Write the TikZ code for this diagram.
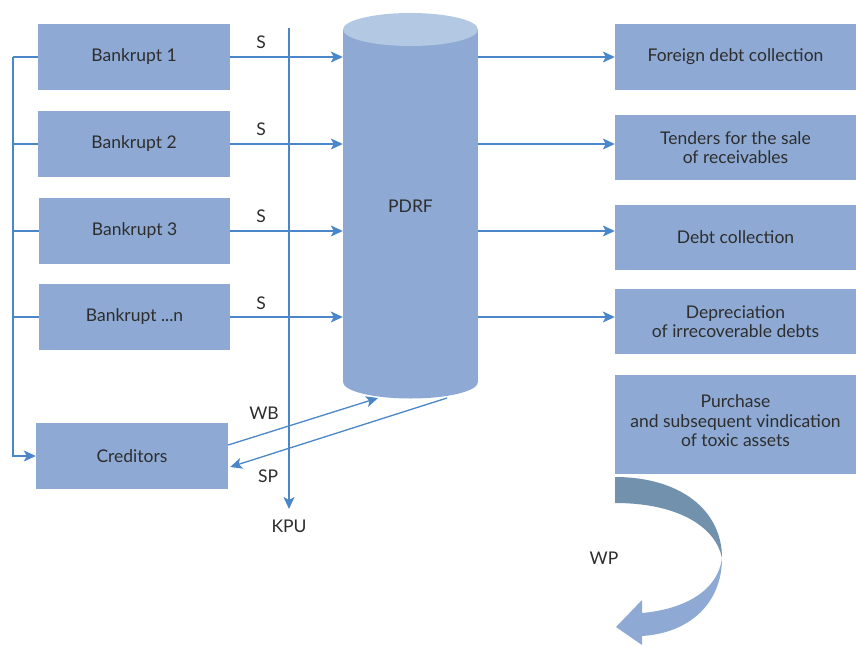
\documentclass[tikz,border=0pt]{standalone}
\usepackage{fontspec}
\setmainfont{Lato}
\usetikzlibrary{arrows.meta}
\definecolor{boxc}{RGB}{142,170,212}
\definecolor{topc}{RGB}{179,201,227}
\definecolor{linec}{RGB}{74,134,200}
\definecolor{txt}{RGB}{45,45,45}
\definecolor{darkband}{RGB}{114,145,173}
\begin{document}
\begin{tikzpicture}[x=1pt,y=-1pt, font=\fontsize{17.5}{19.5}\selectfont,
  box/.style={fill=boxc, draw=none, inner sep=0pt, align=center, text=txt},
  conn/.style={draw=linec, line width=1.3pt, -{Stealth[length=12pt,width=11pt,inset=3pt]}},
  plain/.style={draw=linec, line width=1.3pt},
  lbl/.style={text=txt, inner sep=1pt}]
\useasboundingbox (0,0) rectangle (856,645);

% left boxes
\node[box, minimum width=192pt, minimum height=66pt] (b1) at (134,57) {Bankrupt 1};
\node[box, minimum width=192pt, minimum height=66pt] (b2) at (134,144) {Bankrupt 2};
\node[box, minimum width=191pt, minimum height=66pt] (b3) at (134.5,231) {Bankrupt 3};
\node[box, minimum width=191pt, minimum height=66pt] (bn) at (134.5,317) {Bankrupt ...n};
\node[box, minimum width=192pt, minimum height=66pt] (cred) at (132,456) {Creditors};

% right boxes
\node[box, minimum width=241pt, minimum height=66pt] (f1) at (735.5,57) {Foreign debt collection};
\node[box, minimum width=241pt, minimum height=65pt] (f2) at (735.5,147.5) {Tenders for the sale\\of receivables};
\node[box, minimum width=241pt, minimum height=65pt] (f3) at (735.5,237.5) {Debt collection};
\node[box, minimum width=241pt, minimum height=65pt] (f4) at (735.5,321.5) {Depreciation\\of irrecoverable debts};
\node[box, minimum width=241pt, minimum height=99pt] (f5) at (735.5,424.5) {};
\node[lbl, align=center] (f5t) at (735.5,421) {Purchase\\and subsequent vindication\\of toxic assets};

% cylinder
\fill[boxc] (343,29.5) rectangle (478,382);
\fill[boxc] (410.5,382) ellipse [x radius=67.5, y radius=16.5];
\fill[topc] (410.5,29.5) ellipse [x radius=67.5, y radius=16.5];
\node[inner sep=0pt, minimum width=135pt, minimum height=352.5pt, text=txt] (pdrf) at (410.5,205.75) {PDRF};

% S arrows
\draw[conn] (b1.east) -- (b1.east -| pdrf.west);
\draw[conn] (b2.east) -- (b2.east -| pdrf.west);
\draw[conn] (b3.east) -- (b3.east -| pdrf.west);
\draw[conn] (bn.east) -- (bn.east -| pdrf.west);
\node[lbl] (s1) at (261,42) {S};
\node[lbl] (s2) at (261,129) {S};
\node[lbl] (s3) at (261,216) {S};
\node[lbl] (s4) at (261,303) {S};

% right arrows
\draw[conn] (pdrf.east |- b1.east) -- (b1.east -| f1.west);
\draw[conn] (pdrf.east |- b2.east) -- (b2.east -| f2.west);
\draw[conn] (pdrf.east |- b3.east) -- (b3.east -| f3.west);
\draw[conn] (pdrf.east |- bn.east) -- (bn.east -| f4.west);

% KPU
\coordinate (kt) at (289,28);
\coordinate (kb) at (289,509);
\draw[conn] (kt) -- (kb);
\node[lbl] (kpu) at (289,526) {KPU};

% left bracket
\coordinate (lt) at (13,57);
\draw[plain] (b1.west) -- (lt);
\draw[plain] (b2.west) -- (b2.west -| lt);
\draw[plain] (b3.west) -- (b3.west -| lt);
\draw[plain] (bn.west) -- (bn.west -| lt);
\draw[conn] (lt) |- (cred.west);

% WB / SP
\coordinate (wbe) at (378,398);
\coordinate (sps) at (447,398);
\draw[conn] ([yshift=11pt]cred.east) -- (wbe);
\draw[conn] (sps) -- ([yshift=-11pt,xshift=2pt]cred.east);
\node[lbl] (wb) at (264,413) {WB};
\node[lbl] (sp) at (268,476) {SP};

% WP curved arrow
\fill[darkband] (615,477) .. controls (680,477) and (722,510) .. (722,558)
  .. controls (716,528) and (680,503) .. (615,503) -- cycle;
\fill[boxc] (722,558) .. controls (722,603) and (690,633) .. (642,636)
  -- (642,645) -- (616,627) -- (642,600) -- (642,613)
  .. controls (686,609) and (718,590) .. (722,558) -- cycle;
\node[lbl] (wp) at (604,558) {WP};
\end{tikzpicture}
\end{document}
